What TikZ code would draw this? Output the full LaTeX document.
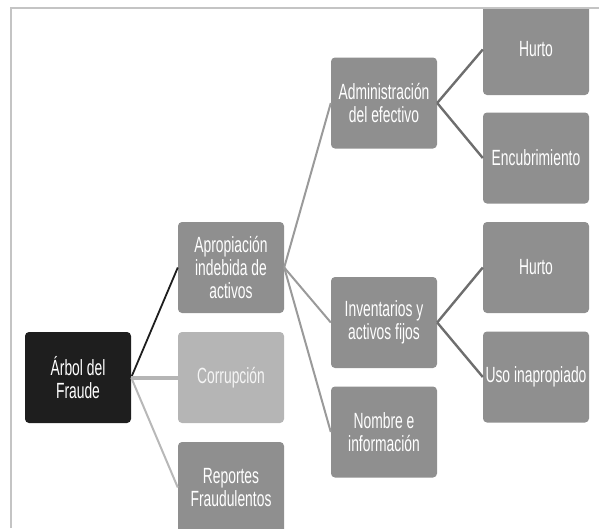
\documentclass[tikz,border=0pt]{standalone}
\usepackage{fontspec}
\setmainfont[FakeStretch=0.63]{Liberation Sans}
\definecolor{boxgray}{HTML}{8F8F8F}
\definecolor{boxdark}{HTML}{1E1E1E}
\definecolor{boxlight}{HTML}{B5B5B5}
\definecolor{framec}{HTML}{C4C4C4}
\definecolor{lineA}{HTML}{9A9A9A}
\definecolor{lineB}{HTML}{6E6E6E}
\definecolor{lineL}{HTML}{B8B8B8}
\begin{document}
\begin{tikzpicture}[x=1pt,y=-1pt,
  treebox/.style={rectangle, rounded corners=4pt, minimum width=106pt, minimum height=91pt,
    inner sep=0pt, align=center, text=white, fill=boxgray,
    font=\fontsize{22}{23}\selectfont},
  darkbox/.style={treebox, fill=boxdark},
  lightbox/.style={treebox, fill=boxlight, text=white!92!gray},
  conn/.style={line width=2pt, draw=lineA},
  connB/.style={line width=2.4pt, draw=lineB}]
\useasboundingbox (0,0) rectangle (599,528);
\begin{scope}
\clip (0,9.5) rectangle (599,528);
\node[darkbox] (arbol) at (78,377.5) {Árbol del\\Fraude};
\node[treebox] (apro) at (231,267.5) {Apropiación\\indebida de\\activos};
\node[lightbox] (corr) at (231,377.5) {Corrupción};
\node[treebox] (rep) at (231,487.5) {Reportes\\Fraudulentos};
\node[treebox] (adm) at (384,103) {Administración\\del efectivo};
\node[treebox] (inv) at (384,322.5) {Inventarios y\\activos fijos};
\node[treebox] (nom) at (384,432) {Nombre e\\información};
\node[treebox] (hur1) at (536,49.5) {Hurto};
\node[treebox] (enc) at (536,158) {Encubrimiento};
\node[treebox] (hur2) at (536,267.5) {Hurto};
\node[treebox] (uso) at (536,377) {Uso inapropiado};
\draw[line width=1.8pt, draw=boxdark] (arbol.east) -- (apro.west);
\draw[line width=4pt, draw=boxlight] (arbol.east) -- (corr.west);
\draw[line width=2pt, draw=lineL] (arbol.east) -- (rep.west);
\draw[conn] (apro.east) -- (adm.west);
\draw[conn] (apro.east) -- (inv.west);
\draw[conn] (apro.east) -- (nom.west);
\draw[connB] (adm.east) -- (hur1.west);
\draw[connB] (adm.east) -- (enc.west);
\draw[connB] (inv.east) -- (hur2.west);
\draw[connB] (inv.east) -- (uso.west);
\end{scope}
\draw[framec, line width=1.5pt] (11,528) -- (11,8) -- (599,8);
\end{tikzpicture}
\end{document}
